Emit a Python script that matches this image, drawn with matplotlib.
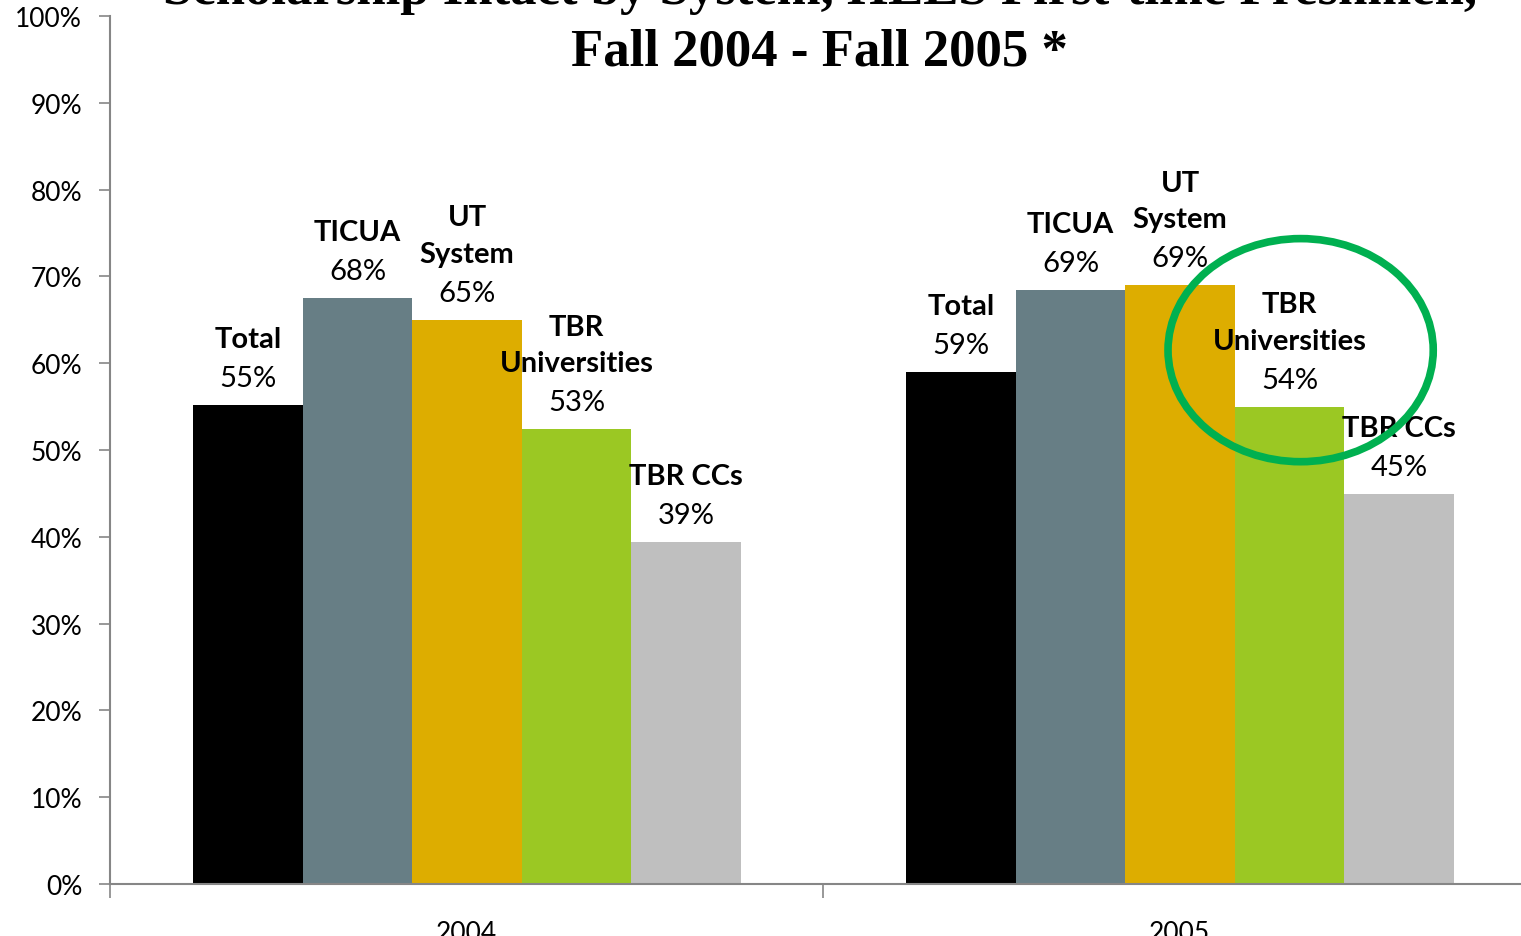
# scholarship retention by system, 2004 vs 2005

import numpy as np
import matplotlib.pyplot as plt
from matplotlib.patches import Ellipse
from matplotlib.ticker import MultipleLocator, PercentFormatter

years = ['2004', '2005']
systems = ['Total', 'TICUA', 'UT\nSystem', 'TBR\nUniversities', 'TBR CCs']
values_2004 = [55.2, 67.5, 65.0, 52.4, 39.4]
values_2005 = [59.0, 68.4, 69.0, 55.0, 44.9]
labels_2004 = ['55%', '68%', '65%', '53%', '39%']
labels_2005 = ['59%', '69%', '69%', '54%', '45%']

COLORS = ['#000000', '#677E85', '#DDAD00', '#9BC823', '#BFBFBF']
LABEL_FONT = 'Lato'
TICK_FONTSIZE = 19
LABEL_SIZE = 21

fig = plt.figure(figsize=(15.21, 9.37), dpi=100)
ax = fig.add_axes([0.0723, 0.0555, 0.9375, 0.9264])

bar_width = 0.1536
x = np.arange(len(years))
values = [values_2004, values_2005]
labels = [labels_2004, labels_2005]

for i, (name, color) in enumerate(zip(systems, COLORS)):
    offset = -0.383 + bar_width * (i + 0.5)
    heights = [values[0][i], values[1][i]]
    ax.bar(x + offset, heights, width=bar_width, color=color, zorder=2)
    for j in range(len(years)):
        ax.annotate(labels[j][i], (x[j] + offset, heights[j]), xytext=(0, 10),
                    textcoords='offset points', ha='center', va='bottom',
                    fontsize=LABEL_SIZE, family=LABEL_FONT, zorder=4)
        ax.annotate(name, (x[j] + offset, heights[j]), xytext=(0, 38),
                    textcoords='offset points', ha='center', va='bottom',
                    fontsize=LABEL_SIZE, family=LABEL_FONT, fontweight='bold',
                    linespacing=1.5, zorder=4)

# highlight circle round TBR Universities 2005
ax.add_patch(Ellipse((1.170, 61.5), 0.372, 25.7, fill=False,
                     edgecolor='#00B050', linewidth=5.5, zorder=5, clip_on=False))

ax.set_xlim(-0.5, 1.5)
ax.set_ylim(0, 100)
ax.yaxis.set_major_locator(MultipleLocator(10))
ax.yaxis.set_major_formatter(PercentFormatter(decimals=0))
ax.set_xticks([-0.5, 0.5])
ax.set_xticklabels([])
ax.set_xticks(x, minor=True)
ax.set_xticklabels(years, minor=True)
ax.tick_params(axis='x', which='major', length=10, color='#868686', width=1.2)
ax.tick_params(axis='x', which='minor', length=0, pad=26, labelsize=TICK_FONTSIZE)
ax.tick_params(axis='y', length=8, color='#868686', width=1.2, labelsize=TICK_FONTSIZE, pad=12)
for lab in ax.get_xticklabels(minor=True) + ax.get_yticklabels():
    lab.set_family(LABEL_FONT)

for side in ['top', 'right']:
    ax.spines[side].set_visible(False)
for side in ['left', 'bottom']:
    ax.spines[side].set_color('#868686')
    ax.spines[side].set_linewidth(1.5)

fig.text(0.539, 0.9957, 'Scholarship Intact by System, HELS First-time Freshmen,',
         ha='center', va='baseline', fontsize=38, family='Liberation Serif',
         fontweight='bold')
fig.text(0.539, 0.9306, 'Fall 2004 - Fall 2005 *', ha='center', va='baseline',
         fontsize=38, family='Liberation Serif', fontweight='bold')

fig.savefig('out.png', dpi=100)
